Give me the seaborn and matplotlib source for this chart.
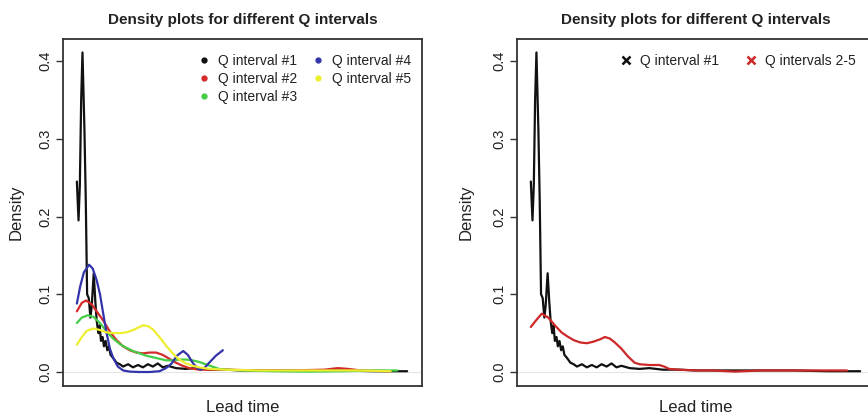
import numpy as np
import pandas as pd
import matplotlib
matplotlib.use("Agg")
import matplotlib.pyplot as plt
from matplotlib.lines import Line2D
import seaborn as sns

# ---------------- data (lead time in arbitrary units 0-100) ----------------
q1_x = [0, 0.5, 0.9, 1.3, 1.7, 2.3, 2.7, 3.1, 3.6, 4.1, 4.5, 5.1, 5.6, 6.0, 6.5,
        6.9, 7.3, 7.8, 8.2, 8.7, 9.2, 9.7, 10.2, 11, 12, 13, 14, 15.5, 17, 18.5,
        20, 21.5, 23, 24.5, 26, 27.5, 30, 33, 36, 40, 45, 50, 60, 70, 80, 90, 100]
q1_y = [0.245, 0.195, 0.24, 0.35, 0.411, 0.31, 0.22, 0.10, 0.095, 0.07, 0.085,
        0.127, 0.09, 0.066, 0.05, 0.06, 0.04, 0.045, 0.033, 0.04, 0.028, 0.033,
        0.022, 0.018, 0.012, 0.010, 0.007, 0.010, 0.006, 0.009, 0.006, 0.010,
        0.007, 0.011, 0.006, 0.008, 0.005, 0.004, 0.005, 0.003, 0.003, 0.002,
        0.002, 0.002, 0.002, 0.001, 0.001]

q2_x = [0, 1.5, 2.8, 4.5, 6, 8, 10, 12, 14, 16, 18, 20, 22, 24, 26, 28, 30, 32,
        34, 37, 45, 55, 65, 75, 79, 82, 86, 95]
q2_y = [0.078, 0.089, 0.092, 0.087, 0.078, 0.066, 0.052, 0.041, 0.033, 0.028,
        0.025, 0.024, 0.025, 0.025, 0.022, 0.017, 0.012, 0.008, 0.005, 0.003,
        0.003, 0.002, 0.002, 0.003, 0.005, 0.004, 0.002, 0.001]

q3_x = [0, 1.5, 3.3, 5, 7, 9, 11, 13, 15, 17, 19, 21, 23, 25, 27, 29, 31, 33, 35,
        37, 39, 41, 43, 45, 50, 60, 70, 80, 90, 97]
q3_y = [0.063, 0.070, 0.073, 0.071, 0.063, 0.052, 0.043, 0.036, 0.031, 0.027,
        0.024, 0.021, 0.019, 0.017, 0.015, 0.015, 0.016, 0.016, 0.015, 0.013,
        0.010, 0.007, 0.004, 0.003, 0.002, 0.001, 0.0005, 0.001, 0.002, 0.002]

q4_x = [0, 1, 2.1, 3.7, 4.8, 6, 7, 7.9, 9, 10, 11, 12.4, 14, 16, 19, 22, 25, 27,
        28.7, 30.3, 32.2, 33.6, 35.2, 36.7, 37.6, 38.8, 40.3, 42.1, 44.2]
q4_y = [0.088, 0.110, 0.128, 0.138, 0.133, 0.118, 0.100, 0.077, 0.050, 0.030,
        0.018, 0.007, 0.002, 0.0005, 0.0, 0.0, 0.001, 0.005, 0.011, 0.021, 0.027,
        0.022, 0.011, 0.004, 0.003, 0.006, 0.013, 0.021, 0.028]

q5_x = [0, 1.5, 3, 5, 7, 9, 11, 13, 15, 17, 19, 20, 21.5, 23, 25, 27, 29, 31, 33,
        35, 37, 40, 45, 55, 65, 75, 85, 95]
q5_y = [0.035, 0.045, 0.053, 0.056, 0.054, 0.051, 0.050, 0.050, 0.051, 0.054,
        0.058, 0.060, 0.059, 0.055, 0.045, 0.034, 0.024, 0.016, 0.011, 0.008,
        0.006, 0.004, 0.003, 0.002, 0.002, 0.002, 0.002, 0.001]

q25_x = [0, 1.5, 3.3, 5.3, 7.3, 9.3, 11, 13, 15, 17, 19, 21, 22.5, 24, 25.5, 27.5,
         29.5, 31.5, 33, 36, 39, 40.5, 42, 45, 50, 55, 62, 70, 80, 90, 96]
q25_y = [0.058, 0.066, 0.075, 0.070, 0.060, 0.051, 0.046, 0.041, 0.038, 0.037,
         0.039, 0.042, 0.045, 0.043, 0.038, 0.030, 0.020, 0.012, 0.010, 0.009,
         0.009, 0.007, 0.004, 0.003, 0.002, 0.002, 0.0005, 0.002, 0.002, 0.002,
         0.002]

left_labels = ["Q interval #1", "Q interval #2", "Q interval #3",
               "Q interval #4", "Q interval #5"]
right_labels = ["Q interval #1", "Q intervals 2-5"]
yticks = [0.0, 0.1, 0.2, 0.3, 0.4]
ytick_labels = ["0.0", "0.1", "0.2", "0.3", "0.4"]
title = "Density plots for different Q intervals"

# ---------------- styling ----------------
sns.set_style("white")
plt.rcParams["font.family"] = ["Liberation Sans", "DejaVu Sans"]

left_colors = ["#111111", "#d42a2a", "#44cc44", "#3333aa", "#eeee30"]
right_colors = ["#111111", "#cc2828"]

def frame(series):
    parts = []
    for lab, xs, ys in series:
        parts.append(pd.DataFrame({"Lead time": xs, "Density": ys, "group": lab}))
    return pd.concat(parts, ignore_index=True)

left_df = frame([(left_labels[0], q1_x, q1_y), (left_labels[1], q2_x, q2_y),
                 (left_labels[2], q3_x, q3_y), (left_labels[3], q4_x, q4_y),
                 (left_labels[4], q5_x, q5_y)])
right_df = frame([(right_labels[0], q1_x, q1_y), (right_labels[1], q25_x, q25_y)])

W, H = 868, 413
fig = plt.figure(figsize=(W / 100, H / 100), dpi=100)
ax1 = fig.add_axes([63 / W, 1 - 386 / H, 359 / W, 347 / H])
ax2 = fig.add_axes([517 / W, 1 - 386 / H, 358 / W, 347 / H])

sns.lineplot(data=left_df, x="Lead time", y="Density", hue="group",
             hue_order=left_labels, palette=dict(zip(left_labels, left_colors)),
             sort=False, estimator=None, lw=1.6, legend=False, ax=ax1)
sns.lineplot(data=right_df, x="Lead time", y="Density", hue="group",
             hue_order=right_labels, palette=dict(zip(right_labels, right_colors)),
             sort=False, estimator=None, lw=1.6, legend=False, ax=ax2)

for ax, ylab_x in ((ax1, -0.109), (ax2, -0.12)):
    ax.axhline(0, color="#e6e6e6", lw=0.8, zorder=0)
    ax.set_xlim(-4.2, 104.5)
    ax.set_ylim(-0.018, 0.4283)
    ax.set_xticks([])
    ax.set_yticks(yticks)
    ax.set_yticklabels(ytick_labels)
    ax.tick_params(axis="y", left=True, length=5, width=1, color="#333333",
                   labelsize=10.5, pad=2.5, labelrotation=90, labelcolor="#222222")
    for lbl in ax.get_yticklabels():
        lbl.set_verticalalignment("center")
    for s in ax.spines.values():
        s.set_visible(True)
        s.set_color("#333333")
        s.set_linewidth(1.3)
    ax.set_xlabel("Lead time", fontsize=12, color="#222222")
    ax.set_ylabel("Density", fontsize=12, color="#222222")
    ax.xaxis.set_label_coords(0.5, -0.039)
    ax.yaxis.set_label_coords(ylab_x, 0.5)
    ax.set_title(title, fontsize=11, fontweight="bold", pad=11, color="#222222")

h1 = [Line2D([], [], ls="none", marker="o", ms=3.5, color=c) for c in left_colors]
ax1.legend(h1, left_labels, ncol=2, loc="upper right", bbox_to_anchor=(0.99, 0.977),
           frameon=False, fontsize=10, borderpad=0, handlelength=0.6,
           handletextpad=0.7, columnspacing=1.2, labelspacing=0.3,
           labelcolor="#222222")

h2 = [Line2D([], [], ls="none", marker="x", ms=5.5, mew=1.8, color=c) for c in right_colors]
ax2.legend(h2, right_labels, ncol=2, loc="upper right", bbox_to_anchor=(0.966, 0.977),
           frameon=False, fontsize=10, borderpad=0, handlelength=0.6,
           handletextpad=0.7, columnspacing=2.0, labelcolor="#222222")

fig.savefig("out.png", dpi=100)
